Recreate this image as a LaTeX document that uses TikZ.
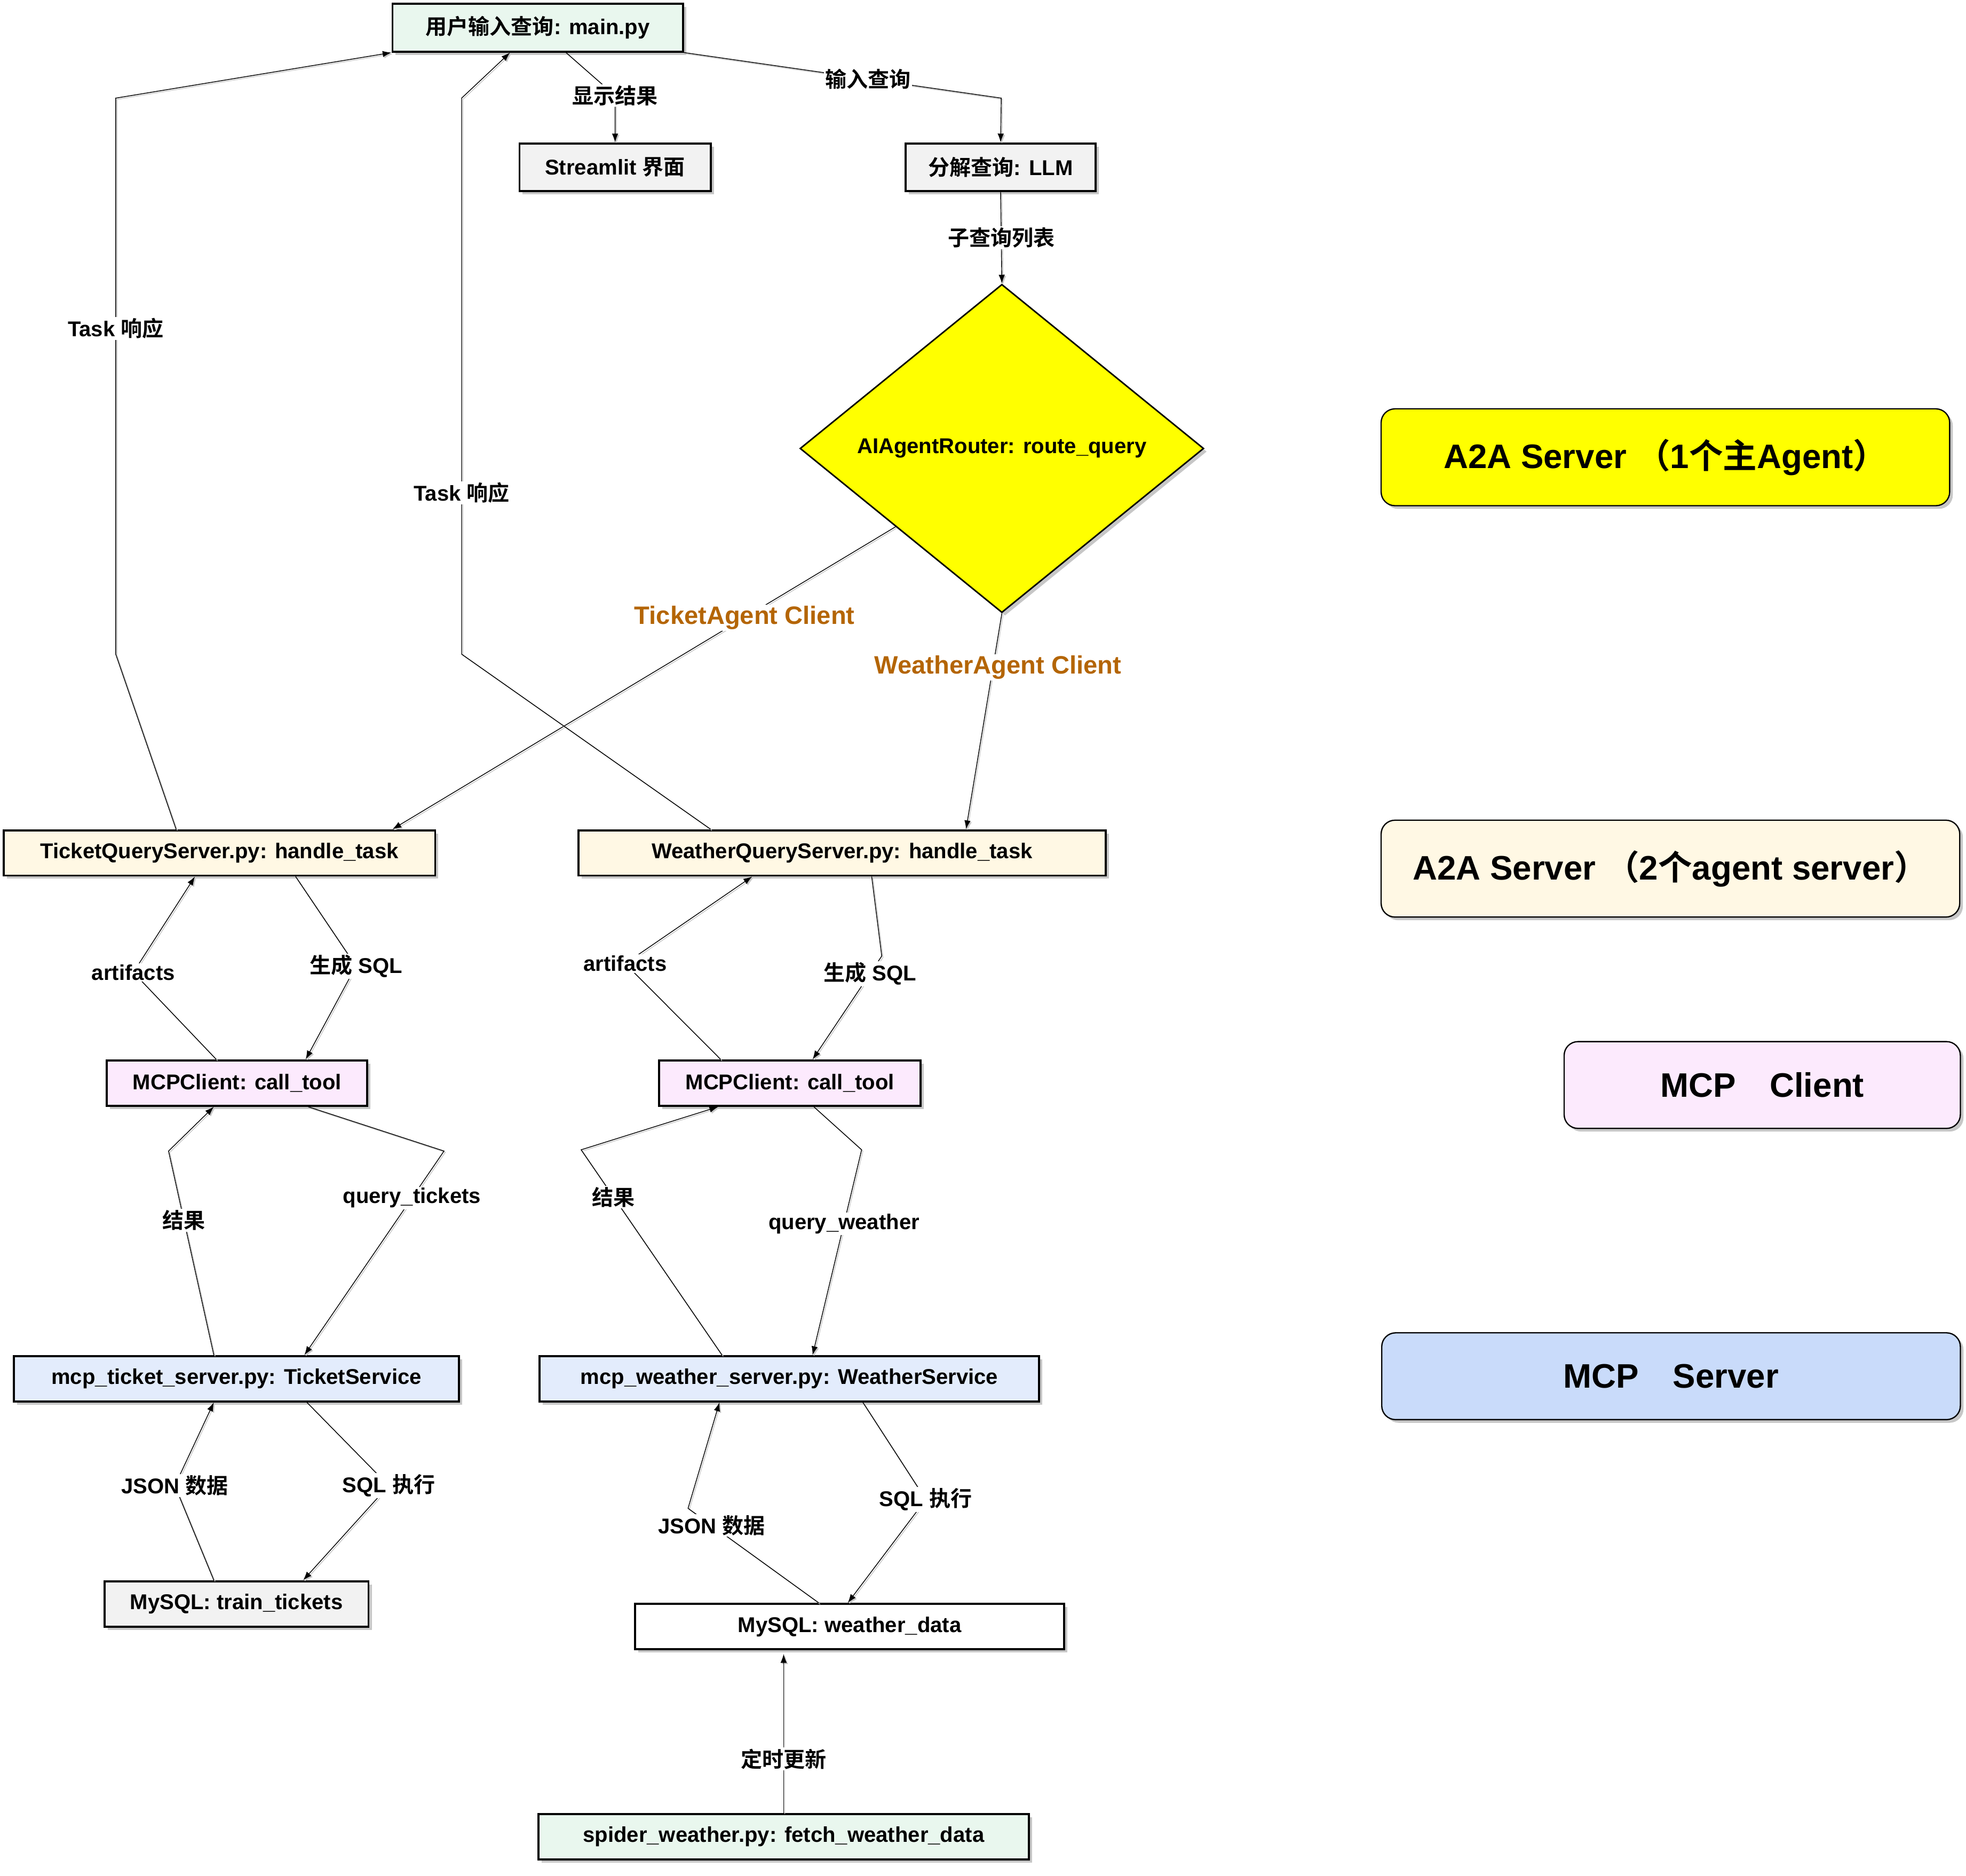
\documentclass[tikz,border=0pt]{standalone}
\usepackage{fontspec}
\setmainfont{Liberation Sans}
\newfontfamily\cjk[BoldFont={Noto Sans CJK SC Bold}]{Noto Sans CJK SC}
\usepackage{tikz}
\usetikzlibrary{arrows.meta,shapes.geometric,shadows,calc}
\definecolor{mint}{HTML}{E9F7EE}
\definecolor{lightgray}{HTML}{F2F2F2}
\definecolor{cream}{HTML}{FFF8E4}
\definecolor{pinkbox}{HTML}{FCEAFD}
\definecolor{bluebox}{HTML}{E3ECFC}
\definecolor{legendblue}{HTML}{C9DBFA}
\definecolor{routeryellow}{HTML}{FFFF00}
\definecolor{agentorange}{HTML}{B46504}

\begin{document}
\begin{tikzpicture}[x=1pt,y=-1pt,
                        main node/.style={rectangle,draw,line width=1.6pt,inner sep=0pt,font=\bfseries\fontsize{17}{20}\selectfont,drop shadow={shadow xshift=2.5pt,shadow yshift=-2.5pt,fill=black!22,opacity=1}},
                        router node/.style={diamond,draw,line width=1.2pt,inner sep=0pt,aspect=1.23,fill=routeryellow,font=\bfseries\fontsize{17}{20}\selectfont,drop shadow={shadow xshift=2.5pt,shadow yshift=-2.5pt,fill=black!22,opacity=1}},
                        legend node/.style={rectangle,rounded corners=11pt,draw,line width=1pt,inner sep=0pt,font=\bfseries\fontsize{27}{32}\selectfont,drop shadow={shadow xshift=2.5pt,shadow yshift=-2.5pt,fill=black!22,opacity=1}},
                        edge line/.style={line width=0.6pt,-{Latex[length=7pt,width=5pt]},preaction={draw=black!22,line width=0.6pt,transform canvas={xshift=1pt,yshift=-1pt}}},
                        edge label/.style={fill=white,inner sep=1pt,font=\bfseries\fontsize{17}{20}\selectfont},
                        agent label/.style={fill=white,inner sep=1pt,text=agentorange,font=\bfseries\fontsize{20}{24}\selectfont}]
                        \useasboundingbox (0,0) rectangle (1563,1491);

                        \node[main node,fill=mint,minimum width=231pt,minimum height=38pt] (1) at (427.5,22) {{\cjk 用户输入查询}: main.py};
                        \node[main node,fill=lightgray,minimum width=152pt,minimum height=38pt] (2) at (489,133) {Streamlit {\cjk 界面}};
                        \node[main node,fill=lightgray,minimum width=151pt,minimum height=38pt] (3) at (795.5,133) {{\cjk 分解查询}: LLM};
                        \node[router node,minimum width=321pt,minimum height=261pt] (4) at (796.5,356.5) {AIAgentRouter: route\_query};
                        \node[main node,fill=cream,minimum width=343pt,minimum height=36pt] (5) at (174.5,678) {TicketQueryServer.py: handle\_task};
                        \node[main node,fill=cream,minimum width=419pt,minimum height=36pt] (6) at (669.5,678) {WeatherQueryServer.py: handle\_task};
                        \node[main node,fill=pinkbox,minimum width=207pt,minimum height=36pt] (7) at (188.5,861) {MCPClient: call\_tool};
                        \node[main node,fill=pinkbox,minimum width=208pt,minimum height=36pt] (8) at (628,861) {MCPClient: call\_tool};
                        \node[main node,fill=bluebox,minimum width=354pt,minimum height=36pt] (9) at (188,1096) {mcp\_ticket\_server.py: TicketService};
                        \node[main node,fill=bluebox,minimum width=397pt,minimum height=36pt] (10) at (627.5,1096) {mcp\_weather\_server.py: WeatherService};
                        \node[main node,fill=lightgray,minimum width=210pt,minimum height=36pt] (11) at (188,1275) {MySQL: train\_tickets};
                        \node[main node,fill=white,minimum width=341pt,minimum height=36pt] (12) at (675.5,1293) {MySQL: weather\_data};
                        \node[main node,fill=mint,minimum width=390pt,minimum height=36pt] (13) at (623,1460) {spider\_weather.py: fetch\_weather\_data};

                        \node[legend node,fill=routeryellow,minimum width=452pt,minimum height=77pt] (14) at (1324,363.5) {A2A Server {\cjk （}1{\cjk 个主}Agent{\cjk ）}};
                        \node[legend node,fill=cream,minimum width=460pt,minimum height=77pt] (15) at (1328,690.5) {A2A Server {\cjk （}2{\cjk 个}agent server{\cjk ）}};
                        \node[legend node,fill=pinkbox,minimum width=315pt,minimum height=69pt] (16) at (1401,862.5) {MCP\quad Client};
                        \node[legend node,fill=legendblue,minimum width=460pt,minimum height=69pt] (17) at (1328.5,1094) {MCP\quad Server};

                        \draw[edge line] ([xshift=22.5pt]1.south)--(489,76) node[edge label]{\cjk 显示结果}--(2.north);
                        \draw[edge line] (1.south east)--node[edge label,pos=0.58]{\cjk 输入查询}(796,78)--(3.north);
                        \draw[edge line] (3.south)--node[edge label]{\cjk 子查询列表}(4.north);
                        \draw[edge line] ($(4.west)!0.475!(4.south)$)--node[agent label,pos=0.3]{TicketAgent Client}([xshift=137.5pt]5.north);
                        \draw[edge line] (4.south)--node[agent label,pos=0.25,xshift=4pt]{WeatherAgent Client}([xshift=98.5pt]6.north);
                        \draw[edge line] ([xshift=-34.5pt]5.north)--(92,520)--node[edge label,pos=0.586]{Task {\cjk 响应}}(92,78)--(1.south west);
                        \draw[edge line] ([xshift=-104.5pt]6.north)--(367,520)--node[edge label,pos=0.29]{Task {\cjk 响应}}(367,78)--([xshift=-22pt]1.south);

                        \draw[edge line] ([xshift=-16.5pt]7.north)--(106,773) node[edge label]{artifacts}--([xshift=-19.5pt]5.south);
                        \draw[edge line] ([xshift=60.5pt]5.south)--(283,768) node[edge label]{{\cjk 生成} SQL}--([xshift=54.5pt]7.north);
                        \draw[edge line] ([xshift=-18pt]9.north)--node[edge label,pos=0.66]{\cjk 结果}(134,915)--([xshift=-18.5pt]7.south);
                        \draw[edge line] ([xshift=56.5pt]7.south)--(353,915)--node[edge label,pos=0.23]{query\_tickets}([xshift=54pt]9.north);
                        \draw[edge line] ([xshift=-18pt]11.north)--(139,1181) node[edge label]{JSON {\cjk 数据}}--([xshift=-18pt]9.south);
                        \draw[edge line] ([xshift=56pt]9.south)--(309,1181) node[edge label]{SQL {\cjk 执行}}--([xshift=53pt]11.north);

                        \draw[edge line] ([xshift=-55pt]8.north)--(497,766) node[edge label]{artifacts}--([xshift=-71.5pt]6.south);
                        \draw[edge line] ([xshift=23.5pt]6.south)--(701,760)--node[edge label,pos=0.17]{{\cjk 生成} SQL}([xshift=18pt]8.north);
                        \draw[edge line] ([xshift=-53.5pt]10.north)--node[edge label,pos=0.77]{\cjk 结果}(462,914)--([xshift=-57pt]8.south);
                        \draw[edge line] ([xshift=19pt]8.south)--(685,914)--node[edge label,pos=0.36]{query\_weather}([xshift=18.5pt]10.north);
                        \draw[edge line] ([xshift=-24.5pt]12.north)--node[edge label,pos=0.82]{JSON {\cjk 数据}}(547,1199)--([xshift=-55.5pt]10.south);
                        \draw[edge line] ([xshift=58.5pt]10.south)--(736,1192) node[edge label]{SQL {\cjk 执行}}--([xshift=-1.5pt]12.north);
                        \draw[edge line] (13.north)--node[edge label,pos=0.34]{\cjk 定时更新}([xshift=-52.5pt,yshift=-3pt]12.south);
        \end{tikzpicture}
\end{document}
